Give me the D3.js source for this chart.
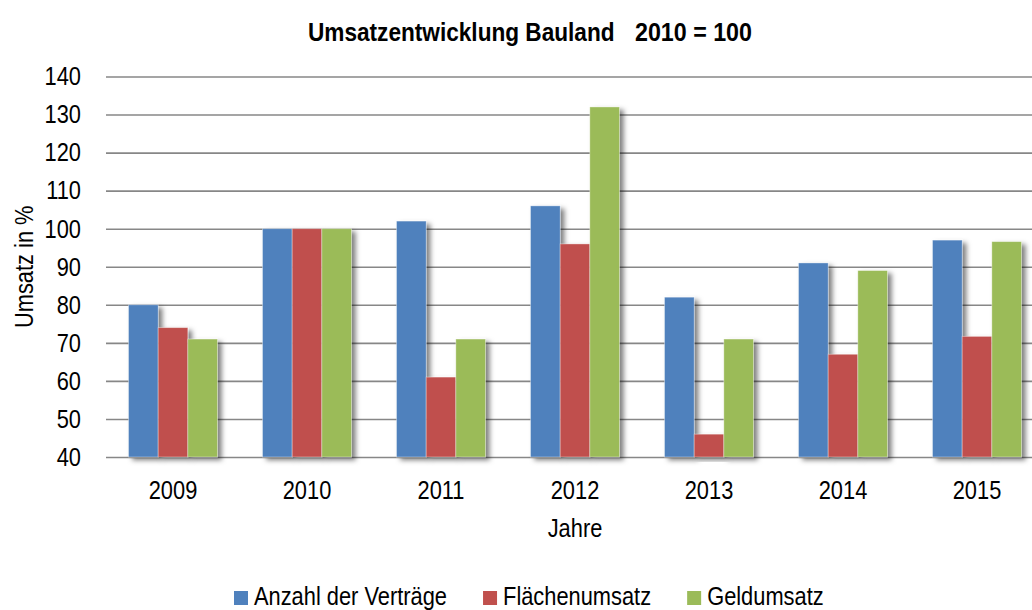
<!DOCTYPE html>
<html>
<head>
<meta charset="utf-8">
<script src="https://cdn.jsdelivr.net/npm/d3@7"></script>
<style>
  html, body { margin: 0; padding: 0; background: #fff; }
  svg { display: block; }
  text { font-family: "Liberation Sans", Arial, sans-serif; fill: #000; }
</style>
</head>
<body>
<svg id="chart" width="1032" height="610"></svg>
<script>
const years = ["2009", "2010", "2011", "2012", "2013", "2014", "2015"];
const seriesNames = ["Anzahl der Verträge", "Flächenumsatz", "Geldumsatz"];
const anzahlVertraege = [80, 100, 102, 106, 82, 91, 97];
const flaechenumsatz = [74, 100, 61, 96, 46, 67, 71.7];
const geldumsatz = [71, 100, 71, 132, 71, 89, 96.6];
const yTickValues = [40, 50, 60, 70, 80, 90, 100, 110, 120, 130, 140];
const colors = ["#4F81BD", "#C0504D", "#9BBB59"];
const titleMain = "Umsatzentwicklung Bauland";
const titleSub = "2010 = 100";
const yTitle = "Umsatz in %";
const xTitle = "Jahre";

const seriesValues = [anzahlVertraege, flaechenumsatz, geldumsatz];

const svg = d3.select("#chart");
const SX = 0.84; // horizontal condensing to mimic a narrow font

function condense(sel, sx) {
  sel.each(function () {
    const t = d3.select(this);
    const x = +t.attr("x") || 0;
    const yy = +t.attr("y") || 0;
    const prev = t.attr("transform") || "";
    t.attr("x", 0).attr("y", 0).attr("transform", `${prev} translate(${x},${yy}) scale(${sx},1)`);
  });
}

const defs = svg.append("defs");
const shadowFilter = defs.append("filter").attr("id", "shadow")
  .attr("x", "-30%").attr("y", "-10%").attr("width", "180%").attr("height", "130%");
shadowFilter.append("feDropShadow").attr("dx", 4).attr("dy", 3).attr("stdDeviation", 2.6)
  .attr("flood-color", "#000").attr("flood-opacity", 0.5);

const plotLeft = 106, plotRight = 1044, plotTop = 76.5, plotBottom = 457;

const x0 = d3.scaleBand().domain(years).range([plotLeft, plotRight]).paddingInner(0.336).paddingOuter(0.168);
const x1 = d3.scaleBand().domain(d3.range(seriesNames.length)).range([0, x0.bandwidth()]);
const y = d3.scaleLinear().domain([40, 140]).range([plotBottom, plotTop]);

// gridlines
svg.append("g").attr("class", "grid")
  .attr("transform", `translate(${plotLeft},0)`)
  .call(d3.axisLeft(y).tickValues(yTickValues).tickSize(-(plotRight - plotLeft)).tickFormat(""))
  .call(g => g.select(".domain").remove())
  .call(g => g.selectAll("line").attr("stroke", "#878787").attr("stroke-width", 1.6));

// bars: series by series
seriesValues.forEach((vals, si) => {
  svg.append("g").selectAll("rect")
    .data(vals.map((v, i) => ({ year: years[i], v })))
    .join("rect")
    .attr("x", d => x0(d.year) + x1(si))
    .attr("y", d => y(d.v))
    .attr("width", x1.bandwidth())
    .attr("height", d => y(40) - y(d.v))
    .attr("fill", colors[si])
    .attr("stroke", "rgba(255,255,255,0.45)")
    .attr("stroke-width", 0.8)
    .attr("filter", "url(#shadow)");
});

// y axis labels
svg.append("g")
  .attr("transform", `translate(${plotLeft},0)`)
  .call(d3.axisLeft(y).tickValues(yTickValues).tickSize(0).tickPadding(25).tickFormat(d3.format("d")))
  .call(g => g.select(".domain").remove())
  .call(g => g.attr("font-family", null).attr("font-size", null))
  .call(g => g.selectAll("text").style("font-size", "26px").attr("fill", "#000").call(condense, SX));

// x axis labels
svg.append("g")
  .attr("transform", `translate(0,${plotBottom})`)
  .call(d3.axisBottom(x0).tickSize(0).tickPadding(0))
  .call(g => g.select(".domain").remove())
  .call(g => g.attr("font-family", null).attr("font-size", null))
  .call(g => g.selectAll("text").style("font-size", "26px").attr("fill", "#000")
    .attr("y", 42).attr("dy", null).call(condense, SX));

// titles
svg.append("text").attr("x", 308).attr("y", 41)
  .style("font-size", "26px").style("font-weight", "bold").text(titleMain).call(condense, 0.87);
svg.append("text").attr("x", 635).attr("y", 41)
  .style("font-size", "25px").style("font-weight", "bold").text(titleSub).call(condense, 0.93);

svg.append("text").attr("transform", `translate(33,${(plotTop + plotBottom) / 2}) rotate(-90)`)
  .attr("text-anchor", "middle").style("font-size", "26px").text(yTitle).call(condense, SX);

svg.append("text").attr("x", (plotLeft + plotRight) / 2).attr("y", 537)
  .attr("text-anchor", "middle").style("font-size", "26px").text(xTitle).call(condense, SX);

// legend
const legend = svg.append("g");
let lx = 234;
seriesNames.forEach((name, i) => {
  legend.append("rect").attr("x", lx).attr("y", 591).attr("width", 14).attr("height", 14).attr("fill", colors[i]);
  const t = legend.append("text").attr("x", lx + 20).attr("y", 605).style("font-size", "26px").text(name);
  const w = t.node().getComputedTextLength() * SX;
  t.call(condense, SX);
  lx += 20 + w + 36;
});
</script>
</body>
</html>
